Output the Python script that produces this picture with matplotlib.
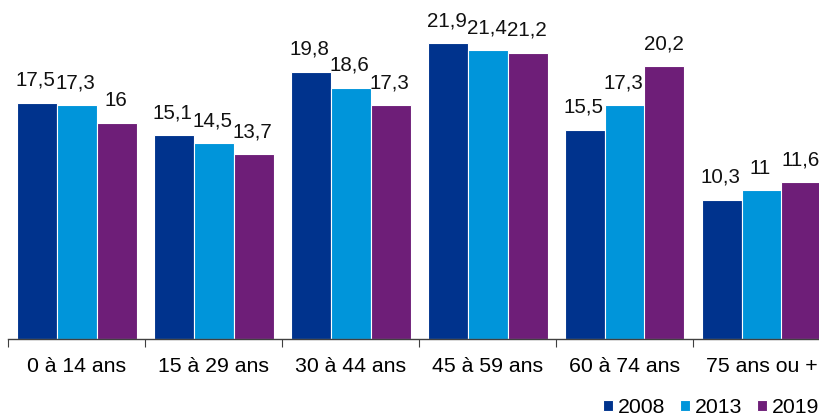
import matplotlib.pyplot as plt
import numpy as np

plt.rcParams['font.family'] = ['Liberation Sans', 'DejaVu Sans']

categories = ['0 à 14 ans', '15 à 29 ans', '30 à 44 ans', '45 à 59 ans', '60 à 74 ans', '75 ans ou +']
years = ['2008', '2013', '2019']
v2008 = [17.5, 15.1, 19.8, 21.9, 15.5, 10.3]
v2013 = [17.3, 14.5, 18.6, 21.4, 17.3, 11.0]
v2019 = [16.0, 13.7, 17.3, 21.2, 20.2, 11.6]
colors = ['#00338D', '#0095DA', '#6E1E78']

fig = plt.figure(figsize=(8.19, 4.19), dpi=100)
# axes runs a bit past the right edge, like the reference crop
ax = fig.add_axes([8 / 819, 80 / 419, 822 / 819, 337.5 / 419])

x = np.arange(len(categories))
w = 120 / 137 / 3
for i, (vals, c, yr) in enumerate(zip([v2008, v2013, v2019], colors, years)):
    pos = x + (i - 1) * w
    ax.bar(pos, vals, width=w, color=c, edgecolor='white', linewidth=0.8, label=yr)
    for p, v in zip(pos, vals):
        txt = ('%g' % v).replace('.', ',')
        ax.annotate(txt, (p, v), xytext=(-1, 13), textcoords='offset pixels',
                    ha='center', va='bottom', fontsize=14.8, color='#111111')

ax.set_xlim(-0.5, len(categories) - 0.5)
ax.set_ylim(0, 25)
for s in ['top', 'right', 'left']:
    ax.spines[s].set_visible(False)
ax.spines['bottom'].set_color('#404040')
ax.spines['bottom'].set_linewidth(1)
ax.set_yticks([])

ax.set_xticks(np.arange(len(categories) + 1) - 0.5)
ax.set_xticklabels([])
ax.set_xticks(x, minor=True)
ax.set_xticklabels(categories, minor=True, fontsize=15.3)
ax.tick_params(axis='x', which='major', length=6, color='#404040', direction='out')
ax.tick_params(axis='x', which='minor', length=0, pad=13)

fig.legend(loc='lower right', bbox_to_anchor=(1.011, -0.015), ncol=3, frameon=False,
           fontsize=15.3, handlelength=0.45, handleheight=0.45, handletextpad=0.25,
           columnspacing=0.7, borderaxespad=0.0)

fig.savefig('out.png', dpi=100)
